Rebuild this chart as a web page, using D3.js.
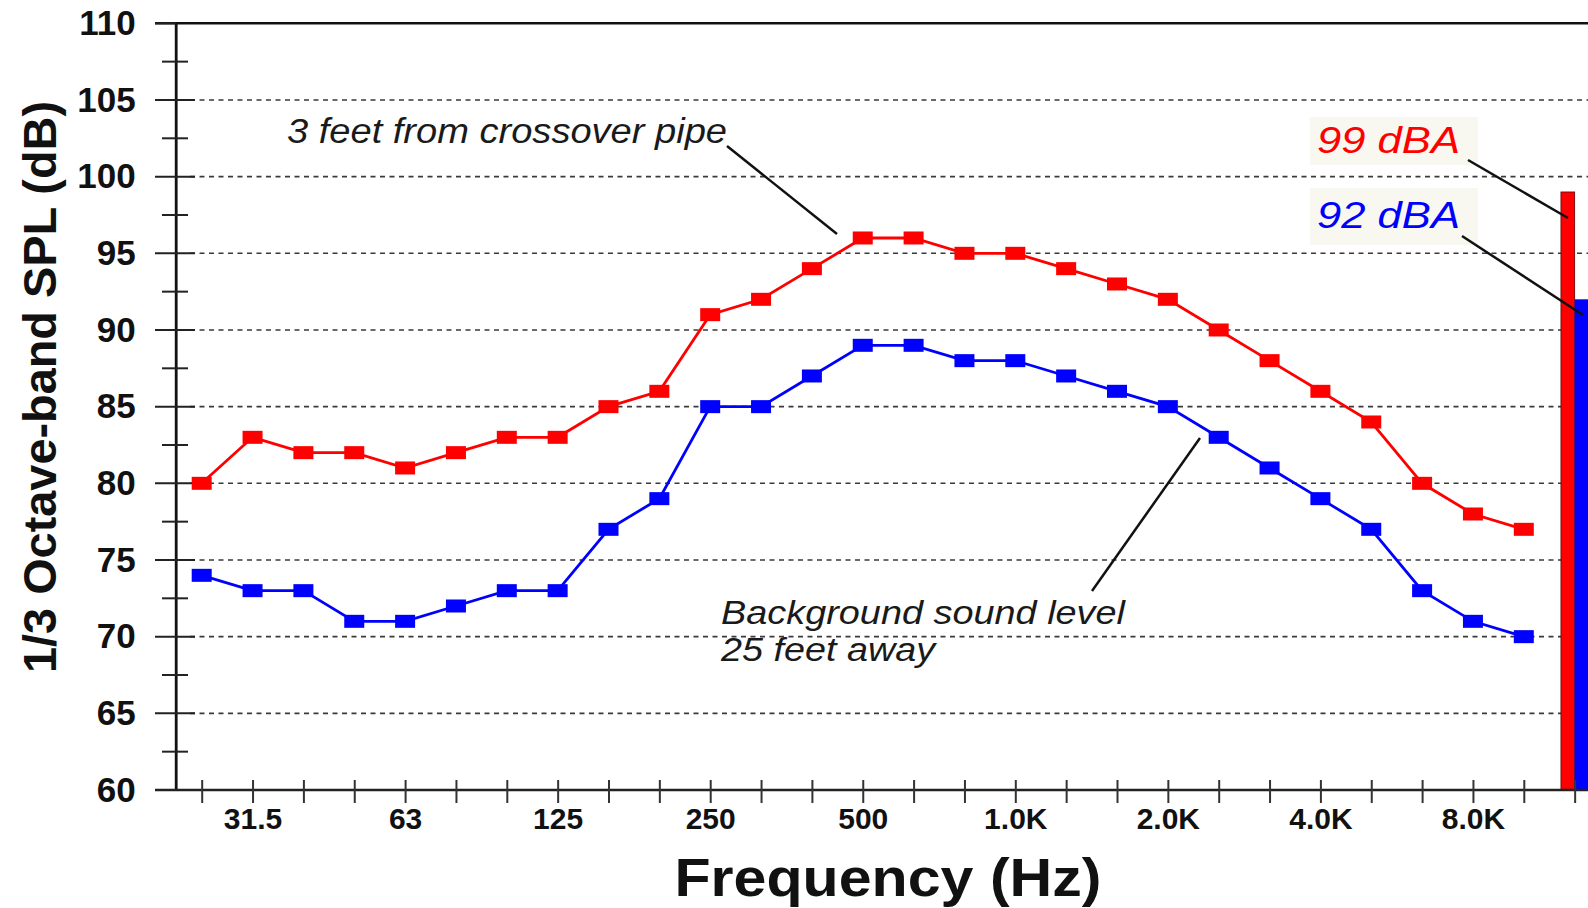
<!DOCTYPE html>
<html>
<head>
<meta charset="utf-8">
<script src="https://cdn.jsdelivr.net/npm/d3@7"></script>
<style>
  html, body { margin: 0; padding: 0; background: #fff; overflow: hidden; }
  text { font-family: "Liberation Sans", Arial, sans-serif; }
</style>
</head>
<body>
<div id="chart"></div>
<script>
// 1/3 octave band centre frequencies (labels as printed on the axis)
var bands = ["25","31.5","40","50","63","80","100","125","160","200","250","315","400","500",
             "630","800","1.0K","1.25K","1.6K","2.0K","2.5K","3.15K","4.0K","5.0K","6.3K","8.0K","10K"];
var shownLabels = ["31.5","63","125","250","500","1.0K","2.0K","4.0K","8.0K"];

// SPL readings, dB
var near = [80,83,82,82,81,82,83,83,85,86,91,92,94,96,96,95,95,94,93,92,90,88,86,84,80,78,77];
var background = [74,73,73,71,71,72,73,73,77,79,85,85,87,89,89,88,88,87,86,85,83,81,79,77,73,71,70];

// overall A-weighted levels
var overall = [{name: "near", value: 99, color: "#ff0000", label: "99 dBA"},
               {name: "background", value: 92, color: "#0000ff", label: "92 dBA"}];

var yTicks = [60,65,70,75,80,85,90,95,100,105,110];

var W = 1588, H = 908;
var plotLeft = 175.7, plotTop = 23.3, plotBottom = 790;

var svg = d3.select("#chart").append("svg")
    .attr("width", W)
    .attr("height", H);

var cats = bands.concat(["dBA"]);
var x = d3.scalePoint()
    .domain(cats)
    .range([201.7, 201.7 + 27 * 50.85]);

var y = d3.scaleLinear()
    .domain([60, 110])
    .range([plotBottom, plotTop]);

// grid
svg.append("g").selectAll("line")
    .data(yTicks.filter(function(d) { return d > 60 && d < 110; }))
  .enter().append("line")
    .attr("x1", 190).attr("x2", W)
    .attr("y1", function(d) { return y(d); })
    .attr("y2", function(d) { return y(d); })
    .attr("stroke", "#3a3a3a")
    .attr("stroke-width", 1.6)
    .attr("stroke-dasharray", "5,4.5");

// overall bars
svg.append("g").selectAll("rect")
    .data(overall)
  .enter().append("rect")
    .attr("x", function(d, i) { return x("dBA") - 13.7 + i * 13.7; })
    .attr("width", 13.7)
    .attr("y", function(d) { return y(d.value); })
    .attr("height", function(d) { return plotBottom - y(d.value); })
    .attr("fill", function(d) { return d.color; })
    .attr("stroke", function(d, i) { return i == 0 ? "#600" : "none"; })
    .attr("stroke-width", 0.8);

// top frame
svg.append("line")
    .attr("x1", 155).attr("x2", W)
    .attr("y1", plotTop).attr("y2", plotTop)
    .attr("stroke", "#111").attr("stroke-width", 2.5);

// y axis
var yAxis = d3.axisLeft(y)
    .tickValues(yTicks)
    .tickSize(0)
    .tickPadding(40);

var gy = svg.append("g")
    .attr("transform", "translate(" + plotLeft + ",0)")
    .call(yAxis);
gy.select(".domain").attr("stroke", "#111").attr("stroke-width", 2.8);
gy.selectAll("text")
    .attr("font-size", 35)
    .attr("font-weight", "bold")
    .attr("fill", "#111");

// major ticks (cross the axis) and minor ticks
svg.append("g").selectAll("line")
    .data(yTicks)
  .enter().append("line")
    .attr("x1", 155).attr("x2", function(d) { return (d == 60 || d == 110) ? plotLeft : 195; })
    .attr("y1", function(d) { return y(d); })
    .attr("y2", function(d) { return y(d); })
    .attr("stroke", "#222").attr("stroke-width", 2);

svg.append("g").selectAll("line")
    .data(d3.range(62.5, 110, 5))
  .enter().append("line")
    .attr("x1", 162).attr("x2", 188)
    .attr("y1", function(d) { return y(d); })
    .attr("y2", function(d) { return y(d); })
    .attr("stroke", "#222").attr("stroke-width", 2);

// x axis
svg.append("line")
    .attr("x1", 155).attr("x2", W)
    .attr("y1", plotBottom).attr("y2", plotBottom)
    .attr("stroke", "#222").attr("stroke-width", 2.5);

var xAxis = d3.axisBottom(x)
    .tickSizeInner(13)
    .tickSizeOuter(0)
    .tickPadding(5)
    .tickFormat(function(d) { return shownLabels.indexOf(d) >= 0 ? d : ""; });

var gx = svg.append("g")
    .attr("transform", "translate(0," + plotBottom + ")")
    .call(xAxis);
gx.select(".domain").remove();
gx.selectAll(".tick line")
    .attr("y1", -10)
    .attr("stroke", "#333").attr("stroke-width", 2);
gx.selectAll("text")
    .attr("font-size", 30)
    .attr("font-weight", "bold")
    .attr("fill", "#111");

// series
var series = [{values: near, color: "#ff0000"}, {values: background, color: "#0000ff"}];

var line = d3.line()
    .x(function(d, i) { return x(bands[i]); })
    .y(function(d) { return y(d); });

series.forEach(function(s) {
  svg.append("path")
      .datum(s.values)
      .attr("fill", "none")
      .attr("stroke", s.color)
      .attr("stroke-width", 2.8)
      .attr("d", line);

  svg.append("g").selectAll("rect")
      .data(s.values)
    .enter().append("rect")
      .attr("x", function(d, i) { return x(bands[i]) - 10; })
      .attr("y", function(d) { return y(d) - 6.5; })
      .attr("width", 20)
      .attr("height", 13)
      .attr("fill", s.color);
});

// annotations
svg.append("text")
    .attr("x", 287).attr("y", 143)
    .attr("font-size", 35).attr("font-style", "italic")
    .attr("textLength", 440).attr("lengthAdjust", "spacingAndGlyphs")
    .attr("fill", "#1a1a1a")
    .text("3 feet from crossover pipe");

svg.append("line")
    .attr("x1", 727).attr("y1", 146)
    .attr("x2", 837).attr("y2", 234)
    .attr("stroke", "#111").attr("stroke-width", 2.5);

svg.append("text")
    .attr("x", 721).attr("y", 624)
    .attr("font-size", 34).attr("font-style", "italic")
    .attr("textLength", 404).attr("lengthAdjust", "spacingAndGlyphs")
    .attr("fill", "#1a1a1a")
    .text("Background sound level");

svg.append("text")
    .attr("x", 721).attr("y", 661)
    .attr("font-size", 34).attr("font-style", "italic")
    .attr("textLength", 214).attr("lengthAdjust", "spacingAndGlyphs")
    .attr("fill", "#1a1a1a")
    .text("25 feet away");

svg.append("line")
    .attr("x1", 1092).attr("y1", 591)
    .attr("x2", 1200).attr("y2", 438)
    .attr("stroke", "#111").attr("stroke-width", 2.5);

// dBA labels
var labelPos = [{bx: 1310, by: 117, bh: 48, tx: 1317, ty: 153, lx1: 1468, ly1: 160, lx2: 1568, ly2: 218},
                {bx: 1310, by: 188, bh: 57, tx: 1317, ty: 228, lx1: 1462, ly1: 236, lx2: 1583, ly2: 315}];

overall.forEach(function(d, i) {
  var p = labelPos[i];
  svg.append("rect")
      .attr("x", p.bx).attr("y", p.by)
      .attr("width", 168).attr("height", p.bh)
      .attr("fill", "#f8f8f1");
  svg.append("text")
      .attr("x", p.tx).attr("y", p.ty)
      .attr("font-size", 36).attr("font-style", "italic")
      .attr("textLength", 143).attr("lengthAdjust", "spacingAndGlyphs")
      .attr("fill", d.color)
      .text(d.label);
  svg.append("line")
      .attr("x1", p.lx1).attr("y1", p.ly1)
      .attr("x2", p.lx2).attr("y2", p.ly2)
      .attr("stroke", "#111").attr("stroke-width", 2.5);
});

// axis titles
svg.append("text")
    .attr("x", 888).attr("y", 896)
    .attr("text-anchor", "middle")
    .attr("font-size", 53).attr("font-weight", "bold")
    .attr("textLength", 427).attr("lengthAdjust", "spacingAndGlyphs")
    .attr("fill", "#111")
    .text("Frequency (Hz)");

svg.append("text")
    .attr("transform", "translate(56,387) rotate(-90)")
    .attr("text-anchor", "middle")
    .attr("font-size", 46).attr("font-weight", "bold")
    .attr("textLength", 572).attr("lengthAdjust", "spacingAndGlyphs")
    .attr("fill", "#111")
    .text("1/3 Octave-band SPL (dB)");
</script>
</body>
</html>
